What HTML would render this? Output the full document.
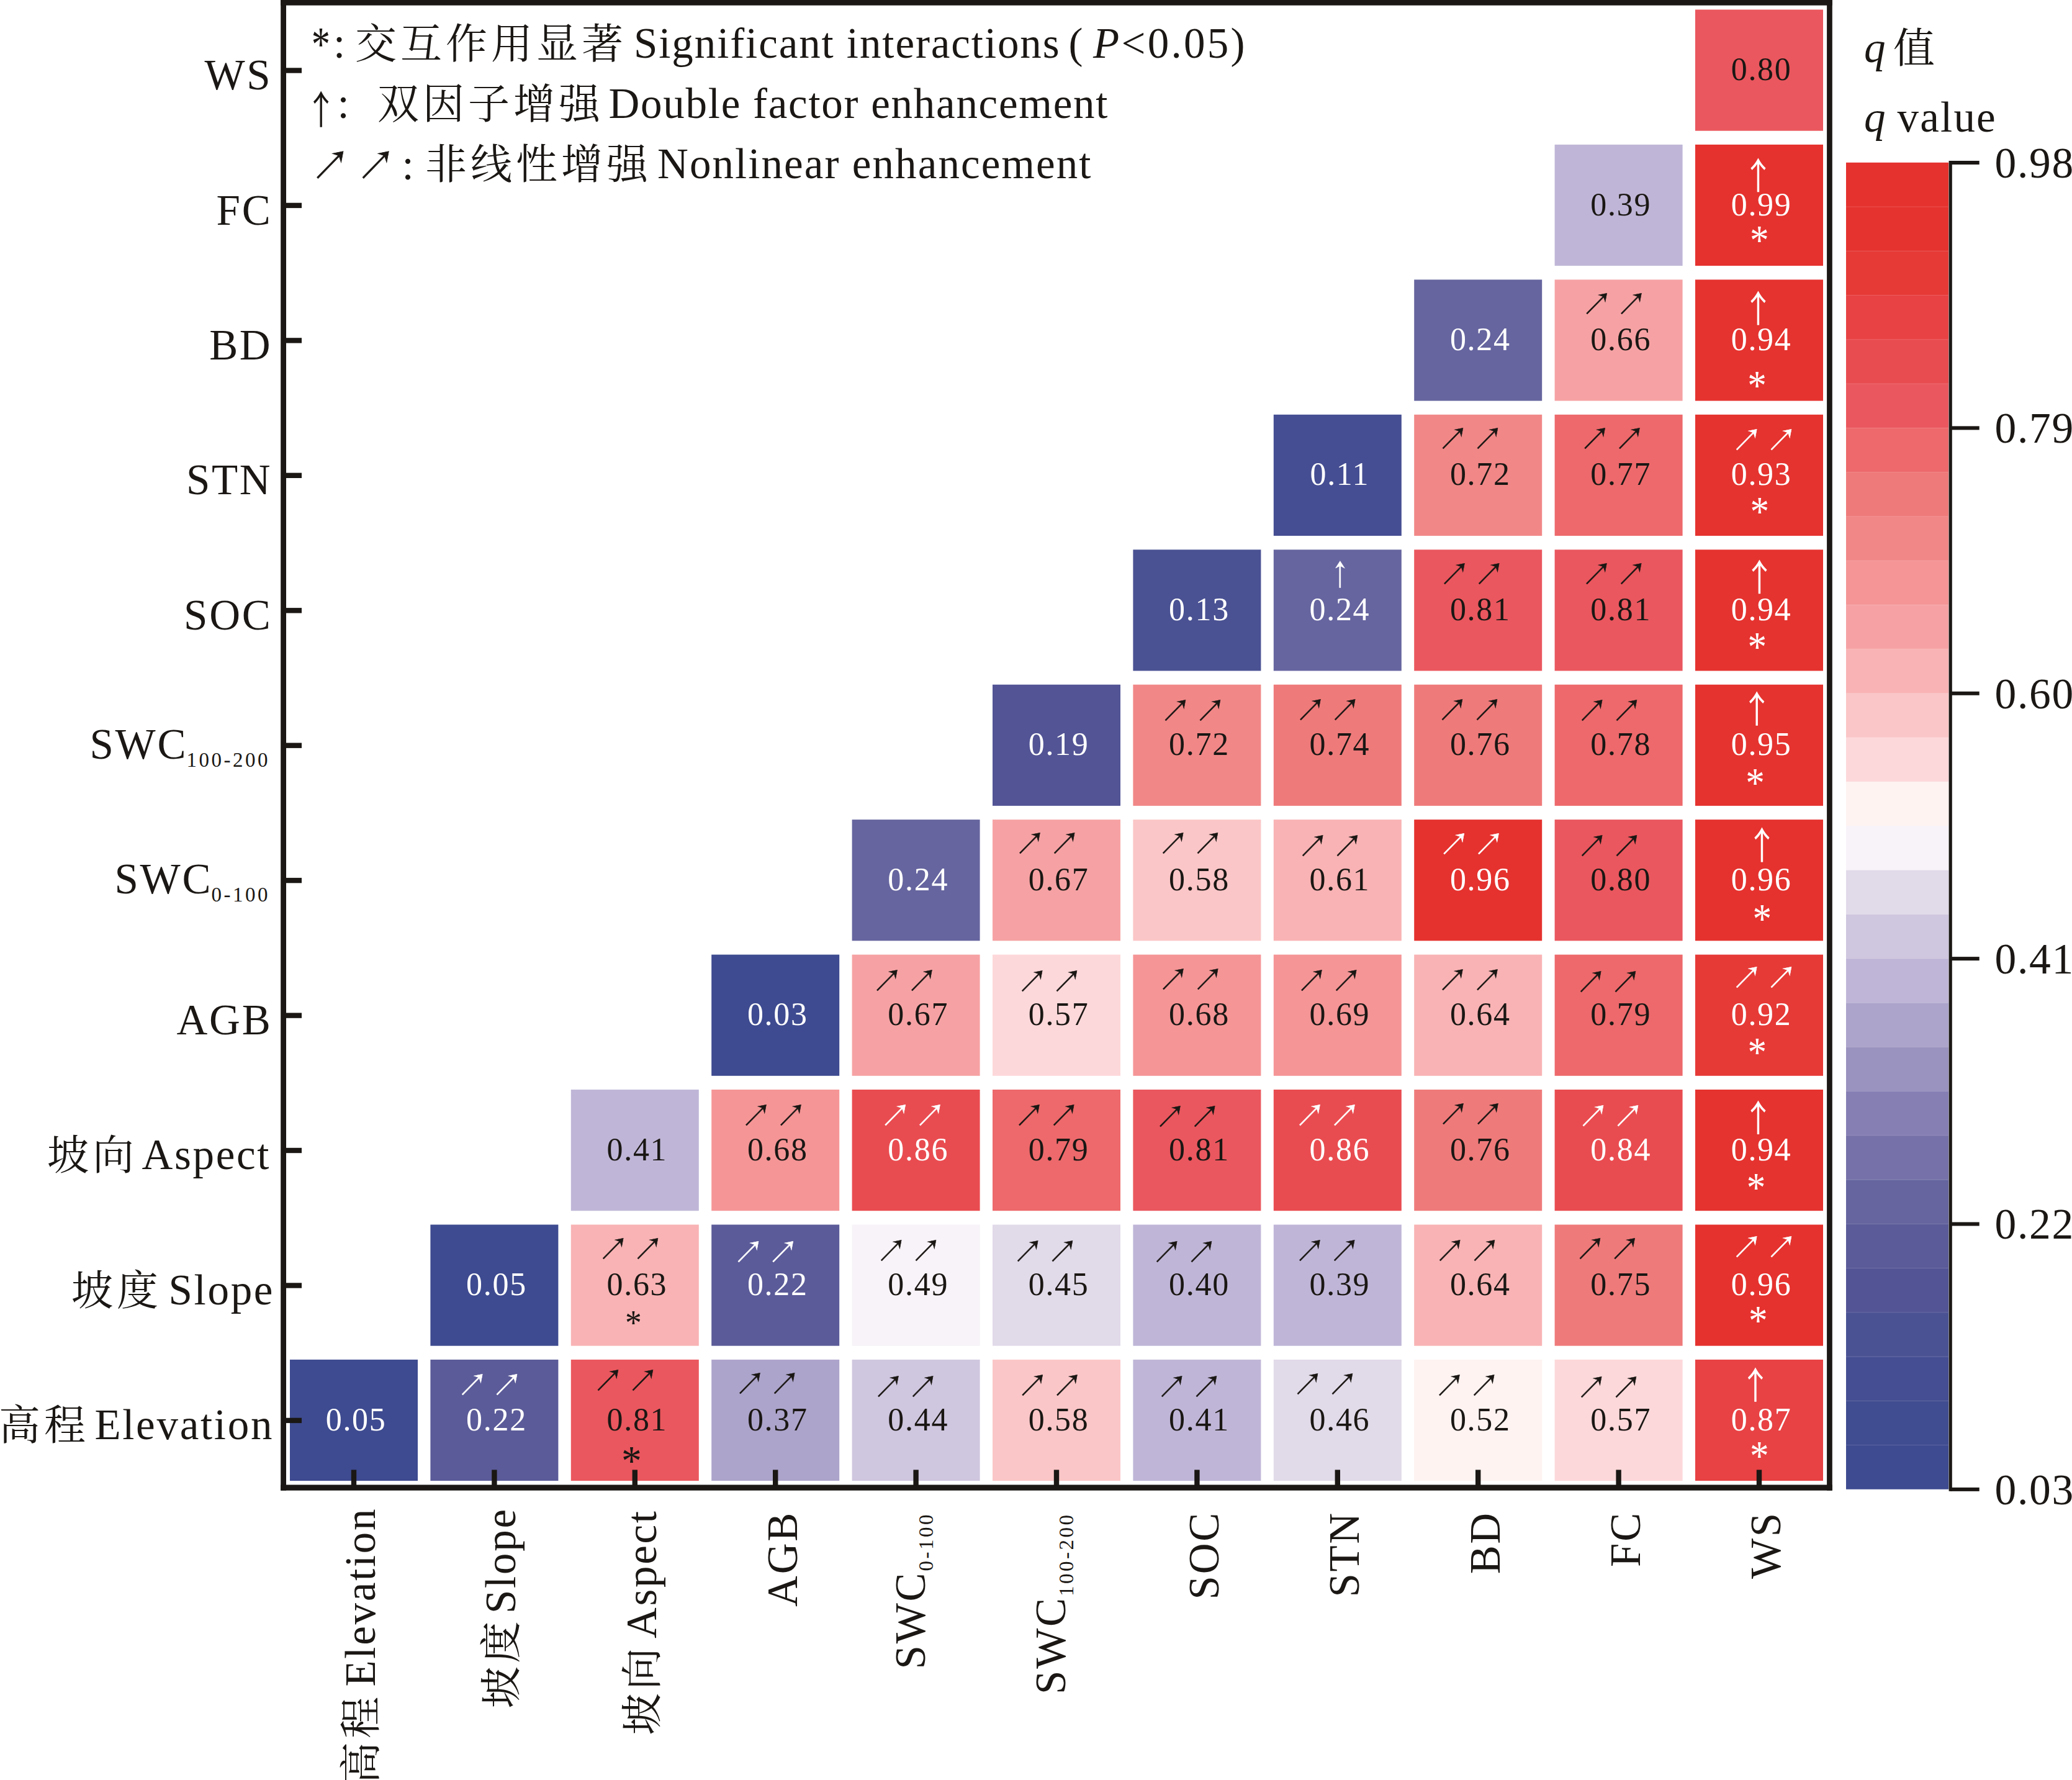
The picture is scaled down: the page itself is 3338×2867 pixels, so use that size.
<!DOCTYPE html>
<html lang="zh"><head><meta charset="utf-8"><title>q value interaction heatmap</title>
<style>html,body{margin:0;padding:0;background:#fff}body{width:3338px;height:2867px;overflow:hidden}svg{display:block}text{font-family:"Liberation Serif", "Noto Serif CJK SC", serif;fill:#1a1714;white-space:pre}.n{font-size:52px;text-anchor:middle;letter-spacing:1.7px}.a,.u{font-family:"WenQuanYi Zen Hei", "Noto Serif CJK SC", "DejaVu Sans", sans-serif;font-size:100px}.a{stroke:#1a1714;stroke-width:1.2px}.a.w{stroke:#fff}.up{font-family:"Noto Serif CJK SC",serif;font-size:100px;stroke:#1a1714;stroke-width:2.8px;stroke-linejoin:miter}.up.w{stroke:#fff}.s,.us{font-family:"Liberation Serif", "Noto Serif CJK SC", serif;font-size:100px}.w{fill:#fff}.l{font-size:69px;letter-spacing:2.7px}.g{letter-spacing:1.9px}.c{font-size:67px;letter-spacing:6px}.sub{font-size:33px;letter-spacing:3.5px}.t{font-size:69.5px;letter-spacing:1.7px}.v{letter-spacing:2.2px}.g2{letter-spacing:1.73px}</style></head><body>
<svg width="3338" height="2867" viewBox="0 0 3338 2867">
<rect width="3338" height="2867" fill="#fff"/>
<rect x="2731.0" y="15.5" width="206.0" height="195.2" fill="#EA575E"/>
<rect x="2504.6" y="232.9" width="206.0" height="195.2" fill="#BFB6D7"/>
<rect x="2731.0" y="232.9" width="206.0" height="195.2" fill="#E5322E"/>
<rect x="2278.2" y="450.4" width="206.0" height="195.2" fill="#66659F"/>
<rect x="2504.6" y="450.4" width="206.0" height="195.2" fill="#F6A2A4"/>
<rect x="2731.0" y="450.4" width="206.0" height="195.2" fill="#E5332F"/>
<rect x="2051.8" y="667.8" width="206.0" height="195.2" fill="#454E92"/>
<rect x="2278.2" y="667.8" width="206.0" height="195.2" fill="#F18787"/>
<rect x="2504.6" y="667.8" width="206.0" height="195.2" fill="#ED696B"/>
<rect x="2731.0" y="667.8" width="206.0" height="195.2" fill="#E5332F"/>
<rect x="1825.4" y="885.3" width="206.0" height="195.2" fill="#4A5293"/>
<rect x="2051.8" y="885.3" width="206.0" height="195.2" fill="#66659F"/>
<rect x="2278.2" y="885.3" width="206.0" height="195.2" fill="#EA575E"/>
<rect x="2504.6" y="885.3" width="206.0" height="195.2" fill="#EA575E"/>
<rect x="2731.0" y="885.3" width="206.0" height="195.2" fill="#E5332F"/>
<rect x="1599.0" y="1102.7" width="206.0" height="195.2" fill="#525495"/>
<rect x="1825.4" y="1102.7" width="206.0" height="195.2" fill="#F18787"/>
<rect x="2051.8" y="1102.7" width="206.0" height="195.2" fill="#EF7A7A"/>
<rect x="2278.2" y="1102.7" width="206.0" height="195.2" fill="#EF7A7A"/>
<rect x="2504.6" y="1102.7" width="206.0" height="195.2" fill="#ED696B"/>
<rect x="2731.0" y="1102.7" width="206.0" height="195.2" fill="#E5332F"/>
<rect x="1372.6" y="1320.1" width="206.0" height="195.2" fill="#66659F"/>
<rect x="1599.0" y="1320.1" width="206.0" height="195.2" fill="#F6A2A4"/>
<rect x="1825.4" y="1320.1" width="206.0" height="195.2" fill="#FBC6C7"/>
<rect x="2051.8" y="1320.1" width="206.0" height="195.2" fill="#F9B3B4"/>
<rect x="2278.2" y="1320.1" width="206.0" height="195.2" fill="#E5322E"/>
<rect x="2504.6" y="1320.1" width="206.0" height="195.2" fill="#EA575E"/>
<rect x="2731.0" y="1320.1" width="206.0" height="195.2" fill="#E5322E"/>
<rect x="1146.2" y="1537.6" width="206.0" height="195.2" fill="#3E4B90"/>
<rect x="1372.6" y="1537.6" width="206.0" height="195.2" fill="#F6A2A4"/>
<rect x="1599.0" y="1537.6" width="206.0" height="195.2" fill="#FDD8DA"/>
<rect x="1825.4" y="1537.6" width="206.0" height="195.2" fill="#F59596"/>
<rect x="2051.8" y="1537.6" width="206.0" height="195.2" fill="#F59596"/>
<rect x="2278.2" y="1537.6" width="206.0" height="195.2" fill="#F9B3B4"/>
<rect x="2504.6" y="1537.6" width="206.0" height="195.2" fill="#ED696B"/>
<rect x="2731.0" y="1537.6" width="206.0" height="195.2" fill="#E63A37"/>
<rect x="919.8" y="1755.0" width="206.0" height="195.2" fill="#BFB6D7"/>
<rect x="1146.2" y="1755.0" width="206.0" height="195.2" fill="#F59596"/>
<rect x="1372.6" y="1755.0" width="206.0" height="195.2" fill="#E94C50"/>
<rect x="1599.0" y="1755.0" width="206.0" height="195.2" fill="#ED696B"/>
<rect x="1825.4" y="1755.0" width="206.0" height="195.2" fill="#EA575E"/>
<rect x="2051.8" y="1755.0" width="206.0" height="195.2" fill="#E94C50"/>
<rect x="2278.2" y="1755.0" width="206.0" height="195.2" fill="#EF7A7A"/>
<rect x="2504.6" y="1755.0" width="206.0" height="195.2" fill="#E94C50"/>
<rect x="2731.0" y="1755.0" width="206.0" height="195.2" fill="#E5332F"/>
<rect x="693.4" y="1972.5" width="206.0" height="195.2" fill="#3E4B90"/>
<rect x="919.8" y="1972.5" width="206.0" height="195.2" fill="#F9B3B4"/>
<rect x="1146.2" y="1972.5" width="206.0" height="195.2" fill="#5B5B99"/>
<rect x="1372.6" y="1972.5" width="206.0" height="195.2" fill="#F7F3F8"/>
<rect x="1599.0" y="1972.5" width="206.0" height="195.2" fill="#E1DAE9"/>
<rect x="1825.4" y="1972.5" width="206.0" height="195.2" fill="#BFB6D7"/>
<rect x="2051.8" y="1972.5" width="206.0" height="195.2" fill="#BFB6D7"/>
<rect x="2278.2" y="1972.5" width="206.0" height="195.2" fill="#F9B3B4"/>
<rect x="2504.6" y="1972.5" width="206.0" height="195.2" fill="#EF7A7A"/>
<rect x="2731.0" y="1972.5" width="206.0" height="195.2" fill="#E5322E"/>
<rect x="467.0" y="2189.9" width="206.0" height="195.2" fill="#3E4B90"/>
<rect x="693.4" y="2189.9" width="206.0" height="195.2" fill="#5B5B99"/>
<rect x="919.8" y="2189.9" width="206.0" height="195.2" fill="#EA575E"/>
<rect x="1146.2" y="2189.9" width="206.0" height="195.2" fill="#ADA4CB"/>
<rect x="1372.6" y="2189.9" width="206.0" height="195.2" fill="#CFC6DF"/>
<rect x="1599.0" y="2189.9" width="206.0" height="195.2" fill="#FBC6C7"/>
<rect x="1825.4" y="2189.9" width="206.0" height="195.2" fill="#BFB6D7"/>
<rect x="2051.8" y="2189.9" width="206.0" height="195.2" fill="#E1DAE9"/>
<rect x="2278.2" y="2189.9" width="206.0" height="195.2" fill="#FEF3F1"/>
<rect x="2504.6" y="2189.9" width="206.0" height="195.2" fill="#FDD8DA"/>
<rect x="2731.0" y="2189.9" width="206.0" height="195.2" fill="#E84244"/>
<g fill="#1a1714">
<rect x="452.2" y="0" width="8.8" height="2400.7"/>
<rect x="2943.1" y="0" width="8.7" height="2400.7"/>
<rect x="452.2" y="0" width="2499.6" height="8.7"/>
<rect x="452.2" y="2391.5" width="2499.6" height="9.2"/>
<rect x="461" y="109.3" width="25" height="8.4"/>
<rect x="461" y="326.7" width="25" height="8.4"/>
<rect x="461" y="544.2" width="25" height="8.4"/>
<rect x="461" y="761.6" width="25" height="8.4"/>
<rect x="461" y="979.1" width="25" height="8.4"/>
<rect x="461" y="1196.5" width="25" height="8.4"/>
<rect x="461" y="1413.9" width="25" height="8.4"/>
<rect x="461" y="1631.4" width="25" height="8.4"/>
<rect x="461" y="1848.8" width="25" height="8.4"/>
<rect x="461" y="2066.3" width="25" height="8.4"/>
<rect x="461" y="2283.7" width="25" height="8.4"/>
<rect x="565.8" y="2367.4" width="8.4" height="25"/>
<rect x="792.2" y="2367.4" width="8.4" height="25"/>
<rect x="1018.6" y="2367.4" width="8.4" height="25"/>
<rect x="1245.0" y="2367.4" width="8.4" height="25"/>
<rect x="1471.4" y="2367.4" width="8.4" height="25"/>
<rect x="1697.8" y="2367.4" width="8.4" height="25"/>
<rect x="1924.2" y="2367.4" width="8.4" height="25"/>
<rect x="2150.6" y="2367.4" width="8.4" height="25"/>
<rect x="2377.0" y="2367.4" width="8.4" height="25"/>
<rect x="2603.4" y="2367.4" width="8.4" height="25"/>
<rect x="2829.8" y="2367.4" width="8.4" height="25"/>
</g>
<text class="n" x="2837.6" y="129.1">0.80</text>
<text class="n" x="2611.2" y="346.5">0.39</text>
<text class="n w" x="2837.6" y="346.5">0.99</text>
<text class="up w" transform="translate(2809.27,304.41) scale(0.4646,0.5675)">↑</text>
<text class="s w" transform="translate(2819.09,409.43) scale(0.6125,0.6806)">*</text>
<text class="n w" x="2384.8" y="564.0">0.24</text>
<text class="n" x="2611.2" y="564.0">0.66</text>
<text class="a" transform="translate(2547.28,507.74) scale(0.5076,0.5181)">↗</text><text class="a" transform="translate(2603.08,507.74) scale(0.5076,0.5181)">↗</text>
<text class="n w" x="2837.6" y="564.0">0.94</text>
<text class="up w" transform="translate(2809.27,518.43) scale(0.4646,0.5696)">↑</text>
<text class="s w" transform="translate(2815.19,642.77) scale(0.6125,0.6806)">*</text>
<text class="n w" x="2158.4" y="781.4">0.11</text>
<text class="n" x="2384.8" y="781.4">0.72</text>
<text class="a" transform="translate(2315.58,724.88) scale(0.5076,0.5181)">↗</text><text class="a" transform="translate(2371.38,724.88) scale(0.5076,0.5181)">↗</text>
<text class="n" x="2611.2" y="781.4">0.77</text>
<text class="a" transform="translate(2544.28,724.88) scale(0.5076,0.5181)">↗</text><text class="a" transform="translate(2600.08,724.88) scale(0.5076,0.5181)">↗</text>
<text class="n w" x="2837.6" y="781.4">0.93</text>
<text class="a w" transform="translate(2788.68,727.28) scale(0.5076,0.5181)">↗</text><text class="a w" transform="translate(2844.48,727.28) scale(0.5076,0.5181)">↗</text>
<text class="s w" transform="translate(2819.59,846.11) scale(0.6125,0.6806)">*</text>
<text class="n w" x="1932.0" y="998.9">0.13</text>
<text class="n w" x="2158.4" y="998.9">0.24</text>
<text class="a w" transform="translate(2135.37,943.17) scale(0.4726,0.4988)">↑</text>
<text class="n" x="2384.8" y="998.9">0.81</text>
<text class="a" transform="translate(2317.88,943.02) scale(0.5076,0.5181)">↗</text><text class="a" transform="translate(2373.68,943.02) scale(0.5076,0.5181)">↗</text>
<text class="n" x="2611.2" y="998.9">0.81</text>
<text class="a" transform="translate(2546.98,943.02) scale(0.5076,0.5181)">↗</text><text class="a" transform="translate(2602.78,943.02) scale(0.5076,0.5181)">↗</text>
<text class="n w" x="2837.6" y="998.9">0.94</text>
<text class="up w" transform="translate(2811.27,951.43) scale(0.4646,0.5675)">↑</text>
<text class="s w" transform="translate(2815.39,1064.15) scale(0.6125,0.6806)">*</text>
<text class="n w" x="1705.6" y="1216.3">0.19</text>
<text class="n" x="1932.0" y="1216.3">0.72</text>
<text class="a" transform="translate(1868.58,1163.16) scale(0.5076,0.5181)">↗</text><text class="a" transform="translate(1924.38,1163.16) scale(0.5076,0.5181)">↗</text>
<text class="n" x="2158.4" y="1216.3">0.74</text>
<text class="a" transform="translate(2085.88,1162.16) scale(0.5076,0.5181)">↗</text><text class="a" transform="translate(2141.68,1162.16) scale(0.5076,0.5181)">↗</text>
<text class="n" x="2384.8" y="1216.3">0.76</text>
<text class="a" transform="translate(2314.58,1162.16) scale(0.5076,0.5181)">↗</text><text class="a" transform="translate(2370.38,1162.16) scale(0.5076,0.5181)">↗</text>
<text class="n" x="2611.2" y="1216.3">0.78</text>
<text class="a" transform="translate(2539.68,1163.16) scale(0.5076,0.5181)">↗</text><text class="a" transform="translate(2595.48,1163.16) scale(0.5076,0.5181)">↗</text>
<text class="n w" x="2837.6" y="1216.3">0.95</text>
<text class="up w" transform="translate(2807.07,1163.32) scale(0.4646,0.5728)">↑</text>
<text class="s w" transform="translate(2812.19,1282.59) scale(0.6125,0.6806)">*</text>
<text class="n w" x="1479.2" y="1433.7">0.24</text>
<text class="n" x="1705.6" y="1433.7">0.67</text>
<text class="a" transform="translate(1633.88,1377.20) scale(0.5076,0.5181)">↗</text><text class="a" transform="translate(1689.68,1377.20) scale(0.5076,0.5181)">↗</text>
<text class="n" x="1932.0" y="1433.7">0.58</text>
<text class="a" transform="translate(1864.68,1377.20) scale(0.5076,0.5181)">↗</text><text class="a" transform="translate(1920.48,1377.20) scale(0.5076,0.5181)">↗</text>
<text class="n" x="2158.4" y="1433.7">0.61</text>
<text class="a" transform="translate(2089.78,1381.10) scale(0.5076,0.5181)">↗</text><text class="a" transform="translate(2145.58,1381.10) scale(0.5076,0.5181)">↗</text>
<text class="n w" x="2384.8" y="1433.7">0.96</text>
<text class="a w" transform="translate(2317.18,1378.10) scale(0.5076,0.5181)">↗</text><text class="a w" transform="translate(2372.98,1378.10) scale(0.5076,0.5181)">↗</text>
<text class="n" x="2611.2" y="1433.7">0.80</text>
<text class="a" transform="translate(2539.68,1381.10) scale(0.5076,0.5181)">↗</text><text class="a" transform="translate(2595.48,1381.10) scale(0.5076,0.5181)">↗</text>
<text class="n w" x="2837.6" y="1433.7">0.96</text>
<text class="up w" transform="translate(2815.27,1383.19) scale(0.4646,0.5802)">↑</text>
<text class="s w" transform="translate(2823.49,1502.43) scale(0.6125,0.6806)">*</text>
<text class="n w" x="1252.8" y="1651.2">0.03</text>
<text class="n" x="1479.2" y="1651.2">0.67</text>
<text class="a" transform="translate(1404.08,1598.14) scale(0.5076,0.5181)">↗</text><text class="a" transform="translate(1459.88,1598.14) scale(0.5076,0.5181)">↗</text>
<text class="n" x="1705.6" y="1651.2">0.57</text>
<text class="a" transform="translate(1637.78,1598.74) scale(0.5076,0.5181)">↗</text><text class="a" transform="translate(1693.58,1598.74) scale(0.5076,0.5181)">↗</text>
<text class="n" x="1932.0" y="1651.2">0.68</text>
<text class="a" transform="translate(1864.88,1596.44) scale(0.5076,0.5181)">↗</text><text class="a" transform="translate(1920.68,1596.44) scale(0.5076,0.5181)">↗</text>
<text class="n" x="2158.4" y="1651.2">0.69</text>
<text class="a" transform="translate(2087.98,1598.14) scale(0.5076,0.5181)">↗</text><text class="a" transform="translate(2143.78,1598.14) scale(0.5076,0.5181)">↗</text>
<text class="n" x="2384.8" y="1651.2">0.64</text>
<text class="a" transform="translate(2315.08,1597.14) scale(0.5076,0.5181)">↗</text><text class="a" transform="translate(2370.88,1597.14) scale(0.5076,0.5181)">↗</text>
<text class="n" x="2611.2" y="1651.2">0.79</text>
<text class="a" transform="translate(2537.68,1599.74) scale(0.5076,0.5181)">↗</text><text class="a" transform="translate(2593.48,1599.74) scale(0.5076,0.5181)">↗</text>
<text class="n w" x="2837.6" y="1651.2">0.92</text>
<text class="a w" transform="translate(2788.68,1592.84) scale(0.5076,0.5181)">↗</text><text class="a w" transform="translate(2844.48,1592.84) scale(0.5076,0.5181)">↗</text>
<text class="s w" transform="translate(2815.39,1716.67) scale(0.6125,0.6806)">*</text>
<text class="n" x="1026.4" y="1868.6">0.41</text>
<text class="n" x="1252.8" y="1868.6">0.68</text>
<text class="a" transform="translate(1193.08,1814.78) scale(0.5076,0.5181)">↗</text><text class="a" transform="translate(1248.88,1814.78) scale(0.5076,0.5181)">↗</text>
<text class="n w" x="1479.2" y="1868.6">0.86</text>
<text class="a w" transform="translate(1417.18,1814.78) scale(0.5076,0.5181)">↗</text><text class="a w" transform="translate(1472.98,1814.78) scale(0.5076,0.5181)">↗</text>
<text class="n" x="1705.6" y="1868.6">0.79</text>
<text class="a" transform="translate(1632.88,1814.78) scale(0.5076,0.5181)">↗</text><text class="a" transform="translate(1688.68,1814.78) scale(0.5076,0.5181)">↗</text>
<text class="n" x="1932.0" y="1868.6">0.81</text>
<text class="a" transform="translate(1859.98,1817.08) scale(0.5076,0.5181)">↗</text><text class="a" transform="translate(1915.78,1817.08) scale(0.5076,0.5181)">↗</text>
<text class="n w" x="2158.4" y="1868.6">0.86</text>
<text class="a w" transform="translate(2085.08,1814.78) scale(0.5076,0.5181)">↗</text><text class="a w" transform="translate(2140.88,1814.78) scale(0.5076,0.5181)">↗</text>
<text class="n" x="2384.8" y="1868.6">0.76</text>
<text class="a" transform="translate(2316.08,1813.08) scale(0.5076,0.5181)">↗</text><text class="a" transform="translate(2371.88,1813.08) scale(0.5076,0.5181)">↗</text>
<text class="n w" x="2611.2" y="1868.6">0.84</text>
<text class="a w" transform="translate(2541.58,1816.38) scale(0.5076,0.5181)">↗</text><text class="a w" transform="translate(2597.38,1816.38) scale(0.5076,0.5181)">↗</text>
<text class="n w" x="2837.6" y="1868.6">0.94</text>
<text class="up w" transform="translate(2809.17,1821.62) scale(0.4646,0.5643)">↑</text>
<text class="s w" transform="translate(2813.69,1935.21) scale(0.6125,0.6806)">*</text>
<text class="n w" x="800.0" y="2086.1">0.05</text>
<text class="n" x="1026.4" y="2086.1">0.63</text>
<text class="a" transform="translate(962.78,2029.82) scale(0.5076,0.5181)">↗</text><text class="a" transform="translate(1018.58,2029.82) scale(0.5076,0.5181)">↗</text>
<text class="s" transform="translate(1007.12,2150.26) scale(0.5350,0.5639)">*</text>
<text class="n w" x="1252.8" y="2086.1">0.22</text>
<text class="a w" transform="translate(1180.38,2035.42) scale(0.5076,0.5181)">↗</text><text class="a w" transform="translate(1236.18,2035.42) scale(0.5076,0.5181)">↗</text>
<text class="n" x="1479.2" y="2086.1">0.49</text>
<text class="a" transform="translate(1410.78,2033.12) scale(0.5076,0.5181)">↗</text><text class="a" transform="translate(1466.58,2033.12) scale(0.5076,0.5181)">↗</text>
<text class="n" x="1705.6" y="2086.1">0.45</text>
<text class="a" transform="translate(1630.68,2033.72) scale(0.5076,0.5181)">↗</text><text class="a" transform="translate(1686.48,2033.72) scale(0.5076,0.5181)">↗</text>
<text class="n" x="1932.0" y="2086.1">0.40</text>
<text class="a" transform="translate(1854.78,2035.42) scale(0.5076,0.5181)">↗</text><text class="a" transform="translate(1910.58,2035.42) scale(0.5076,0.5181)">↗</text>
<text class="n" x="2158.4" y="2086.1">0.39</text>
<text class="a" transform="translate(2084.88,2033.12) scale(0.5076,0.5181)">↗</text><text class="a" transform="translate(2140.68,2033.12) scale(0.5076,0.5181)">↗</text>
<text class="n" x="2384.8" y="2086.1">0.64</text>
<text class="a" transform="translate(2310.68,2033.12) scale(0.5076,0.5181)">↗</text><text class="a" transform="translate(2366.48,2033.12) scale(0.5076,0.5181)">↗</text>
<text class="n" x="2611.2" y="2086.1">0.75</text>
<text class="a" transform="translate(2536.48,2029.82) scale(0.5076,0.5181)">↗</text><text class="a" transform="translate(2592.28,2029.82) scale(0.5076,0.5181)">↗</text>
<text class="n w" x="2837.6" y="2086.1">0.96</text>
<text class="a w" transform="translate(2788.68,2026.52) scale(0.5076,0.5181)">↗</text><text class="a w" transform="translate(2844.48,2026.52) scale(0.5076,0.5181)">↗</text>
<text class="s w" transform="translate(2817.09,2149.25) scale(0.6125,0.6806)">*</text>
<text class="n w" x="573.6" y="2303.5">0.05</text>
<text class="n w" x="800.0" y="2303.5">0.22</text>
<text class="a w" transform="translate(735.68,2248.76) scale(0.5076,0.5181)">↗</text><text class="a w" transform="translate(791.48,2248.76) scale(0.5076,0.5181)">↗</text>
<text class="n" x="1026.4" y="2303.5">0.81</text>
<text class="a" transform="translate(954.58,2241.56) scale(0.5076,0.5181)">↗</text><text class="a" transform="translate(1010.38,2241.56) scale(0.5076,0.5181)">↗</text>
<text class="s" transform="translate(1000.96,2375.32) scale(0.6575,0.6833)">*</text>
<text class="n" x="1252.8" y="2303.5">0.37</text>
<text class="a" transform="translate(1182.98,2247.16) scale(0.5076,0.5181)">↗</text><text class="a" transform="translate(1238.78,2247.16) scale(0.5076,0.5181)">↗</text>
<text class="n" x="1479.2" y="2303.5">0.44</text>
<text class="a" transform="translate(1405.88,2252.06) scale(0.5076,0.5181)">↗</text><text class="a" transform="translate(1461.68,2252.06) scale(0.5076,0.5181)">↗</text>
<text class="n" x="1705.6" y="2303.5">0.58</text>
<text class="a" transform="translate(1638.18,2249.76) scale(0.5076,0.5181)">↗</text><text class="a" transform="translate(1693.98,2249.76) scale(0.5076,0.5181)">↗</text>
<text class="n" x="1932.0" y="2303.5">0.41</text>
<text class="a" transform="translate(1862.68,2252.06) scale(0.5076,0.5181)">↗</text><text class="a" transform="translate(1918.48,2252.06) scale(0.5076,0.5181)">↗</text>
<text class="n" x="2158.4" y="2303.5">0.46</text>
<text class="a" transform="translate(2081.58,2248.06) scale(0.5076,0.5181)">↗</text><text class="a" transform="translate(2137.38,2248.06) scale(0.5076,0.5181)">↗</text>
<text class="n" x="2384.8" y="2303.5">0.52</text>
<text class="a" transform="translate(2309.98,2249.76) scale(0.5076,0.5181)">↗</text><text class="a" transform="translate(2365.78,2249.76) scale(0.5076,0.5181)">↗</text>
<text class="n" x="2611.2" y="2303.5">0.57</text>
<text class="a" transform="translate(2538.78,2253.06) scale(0.5076,0.5181)">↗</text><text class="a" transform="translate(2594.58,2253.06) scale(0.5076,0.5181)">↗</text>
<text class="n w" x="2837.6" y="2303.5">0.87</text>
<text class="up w" transform="translate(2804.67,2251.53) scale(0.4646,0.5717)">↑</text>
<text class="s w" transform="translate(2819.09,2367.49) scale(0.6125,0.6806)">*</text>
<text class="l" x="438.4" y="144.1" text-anchor="end">WS</text>
<text class="l" x="438.4" y="361.5" text-anchor="end">FC</text>
<text class="l" x="438.4" y="579.0" text-anchor="end">BD</text>
<text class="l" x="438.4" y="796.4" text-anchor="end">STN</text>
<text class="l" x="438.4" y="1013.9" text-anchor="end">SOC</text>
<text class="l" x="438.4" y="1666.2" text-anchor="end">AGB</text>
<text class="l" x="144.5" y="1222.0">SWC</text><text class="sub" x="300.5" y="1234.8">100-200</text>
<text class="l" x="184.5" y="1439.4">SWC</text><text class="sub" x="340.5" y="1452.2">0-100</text>
<text class="c" x="76.0" y="1884.4">坡向</text><text class="l" x="228.4" y="1883.4">Aspect</text>
<text class="c" x="115.0" y="2101.9">坡度</text><text class="l" x="271.5" y="2100.9">Slope</text>
<text class="c" x="-2.0" y="2319.3">高程</text><text class="l" x="152.4" y="2318.3">Elevation</text>
<g transform="translate(604.0,0) rotate(-90)"><text class="l" text-anchor="end" x="-2427.8" y="0">Elevation</text><text class="c" text-anchor="end" x="-2727.0" y="1">高程</text></g>
<g transform="translate(830.4,0) rotate(-90)"><text class="l" text-anchor="end" x="-2428.3" y="0">Slope</text><text class="c" text-anchor="end" x="-2605.5" y="1">坡度</text></g>
<g transform="translate(1056.8,0) rotate(-90)"><text class="l" text-anchor="end" x="-2431.3" y="0">Aspect</text><text class="c" text-anchor="end" x="-2648.5" y="1">坡向</text></g>
<text class="l" transform="translate(1283.5,2436.8) rotate(-90)" text-anchor="end" x="2.7" y="0">AGB</text>
<g transform="translate(1489.9,0) rotate(-90)"><text class="sub" text-anchor="end" x="-2436.0" y="13">0-100</text><text class="l" text-anchor="end" x="-2530.8" y="0">SWC</text></g>
<g transform="translate(1716.3,0) rotate(-90)"><text class="sub" text-anchor="end" x="-2436.5" y="13">100-200</text><text class="l" text-anchor="end" x="-2571.3" y="0">SWC</text></g>
<text class="l" transform="translate(1962.7,2436.8) rotate(-90)" text-anchor="end" x="2.7" y="0">SOC</text>
<text class="l" transform="translate(2189.1,2436.8) rotate(-90)" text-anchor="end" x="2.7" y="0">STN</text>
<text class="l" transform="translate(2415.5,2436.8) rotate(-90)" text-anchor="end" x="2.7" y="0">BD</text>
<text class="l" transform="translate(2641.9,2436.8) rotate(-90)" text-anchor="end" x="2.7" y="0">FC</text>
<text class="l" transform="translate(2868.3,2436.8) rotate(-90)" text-anchor="end" x="2.7" y="0">WS</text>
<text class="s" transform="translate(501.78,96.50) scale(0.6050,0.7861)">*</text><text class="l" x="537" y="93">:</text><text class="c" x="572" y="94">交互作用显著</text><text class="l g" x="1021" y="93">Significant interactions</text><text class="l g" x="1721.4" y="93">(</text><text class="l" x="1761" y="93" style="letter-spacing:3.3px"><tspan font-style="italic">P</tspan>&lt;0.05)</text>
<text class="up" transform="translate(493.67,199.32) scale(0.4685,0.6044)">↑</text><text class="l" x="543.5" y="190">:</text><text class="c" x="608" y="191">双因子增强</text><text class="l g2" x="980.5" y="190">Double factor enhancement</text>
<text class="a" transform="translate(499.72,290.28) scale(0.6511,0.6707)">↗</text><text class="a" transform="translate(573.15,290.28) scale(0.6495,0.6707)">↗</text><text class="l" x="647.5" y="289">:</text><text class="c" x="685" y="288">非线性增强</text><text class="l" style="letter-spacing:2.07px" x="1059" y="287">Nonlinear enhancement</text>
<rect x="2974.0" y="261.80" width="165.2" height="71.83" fill="#E5322E"/>
<rect x="2974.0" y="333.03" width="165.2" height="71.83" fill="#E5332F"/>
<rect x="2974.0" y="404.27" width="165.2" height="71.83" fill="#E63A37"/>
<rect x="2974.0" y="475.50" width="165.2" height="71.83" fill="#E84244"/>
<rect x="2974.0" y="546.73" width="165.2" height="71.83" fill="#E94C50"/>
<rect x="2974.0" y="617.97" width="165.2" height="71.83" fill="#EA575E"/>
<rect x="2974.0" y="689.20" width="165.2" height="71.83" fill="#ED696B"/>
<rect x="2974.0" y="760.43" width="165.2" height="71.83" fill="#EF7A7A"/>
<rect x="2974.0" y="831.67" width="165.2" height="71.83" fill="#F18787"/>
<rect x="2974.0" y="902.90" width="165.2" height="71.83" fill="#F59596"/>
<rect x="2974.0" y="974.13" width="165.2" height="71.83" fill="#F6A2A4"/>
<rect x="2974.0" y="1045.37" width="165.2" height="71.83" fill="#F9B3B4"/>
<rect x="2974.0" y="1116.60" width="165.2" height="71.83" fill="#FBC6C7"/>
<rect x="2974.0" y="1187.83" width="165.2" height="71.83" fill="#FDD8DA"/>
<rect x="2974.0" y="1259.07" width="165.2" height="71.83" fill="#FEF3F1"/>
<rect x="2974.0" y="1330.30" width="165.2" height="71.83" fill="#F7F3F8"/>
<rect x="2974.0" y="1401.53" width="165.2" height="71.83" fill="#E1DAE9"/>
<rect x="2974.0" y="1472.77" width="165.2" height="71.83" fill="#CFC6DF"/>
<rect x="2974.0" y="1544.00" width="165.2" height="71.83" fill="#BFB6D7"/>
<rect x="2974.0" y="1615.23" width="165.2" height="71.83" fill="#ADA4CB"/>
<rect x="2974.0" y="1686.47" width="165.2" height="71.83" fill="#9A92BF"/>
<rect x="2974.0" y="1757.70" width="165.2" height="71.83" fill="#867FB4"/>
<rect x="2974.0" y="1828.93" width="165.2" height="71.83" fill="#7671A8"/>
<rect x="2974.0" y="1900.17" width="165.2" height="71.83" fill="#66659F"/>
<rect x="2974.0" y="1971.40" width="165.2" height="71.83" fill="#5B5B99"/>
<rect x="2974.0" y="2042.63" width="165.2" height="71.83" fill="#525495"/>
<rect x="2974.0" y="2113.87" width="165.2" height="71.83" fill="#4A5293"/>
<rect x="2974.0" y="2185.10" width="165.2" height="71.83" fill="#454E92"/>
<rect x="2974.0" y="2256.33" width="165.2" height="71.83" fill="#404D90"/>
<rect x="2974.0" y="2327.57" width="165.2" height="71.23" fill="#3E4B90"/>
<rect x="2974.0" y="332.53" width="165.2" height="1" fill="#fff" fill-opacity="0.16"/>
<rect x="2974.0" y="403.77" width="165.2" height="1" fill="#fff" fill-opacity="0.16"/>
<rect x="2974.0" y="475.00" width="165.2" height="1" fill="#fff" fill-opacity="0.16"/>
<rect x="2974.0" y="546.23" width="165.2" height="1" fill="#fff" fill-opacity="0.16"/>
<rect x="2974.0" y="617.47" width="165.2" height="1" fill="#fff" fill-opacity="0.16"/>
<rect x="2974.0" y="688.70" width="165.2" height="1" fill="#fff" fill-opacity="0.16"/>
<rect x="2974.0" y="759.93" width="165.2" height="1" fill="#fff" fill-opacity="0.16"/>
<rect x="2974.0" y="831.17" width="165.2" height="1" fill="#fff" fill-opacity="0.16"/>
<rect x="2974.0" y="902.40" width="165.2" height="1" fill="#fff" fill-opacity="0.16"/>
<rect x="2974.0" y="973.63" width="165.2" height="1" fill="#fff" fill-opacity="0.16"/>
<rect x="2974.0" y="1044.87" width="165.2" height="1" fill="#fff" fill-opacity="0.16"/>
<rect x="2974.0" y="1116.10" width="165.2" height="1" fill="#fff" fill-opacity="0.16"/>
<rect x="2974.0" y="1187.33" width="165.2" height="1" fill="#fff" fill-opacity="0.16"/>
<rect x="2974.0" y="1258.57" width="165.2" height="1" fill="#fff" fill-opacity="0.16"/>
<rect x="2974.0" y="1329.80" width="165.2" height="1" fill="#fff" fill-opacity="0.16"/>
<rect x="2974.0" y="1401.03" width="165.2" height="1" fill="#fff" fill-opacity="0.16"/>
<rect x="2974.0" y="1472.27" width="165.2" height="1" fill="#fff" fill-opacity="0.16"/>
<rect x="2974.0" y="1543.50" width="165.2" height="1" fill="#fff" fill-opacity="0.16"/>
<rect x="2974.0" y="1614.73" width="165.2" height="1" fill="#fff" fill-opacity="0.16"/>
<rect x="2974.0" y="1685.97" width="165.2" height="1" fill="#fff" fill-opacity="0.16"/>
<rect x="2974.0" y="1757.20" width="165.2" height="1" fill="#fff" fill-opacity="0.16"/>
<rect x="2974.0" y="1828.43" width="165.2" height="1" fill="#fff" fill-opacity="0.16"/>
<rect x="2974.0" y="1899.67" width="165.2" height="1" fill="#fff" fill-opacity="0.16"/>
<rect x="2974.0" y="1970.90" width="165.2" height="1" fill="#fff" fill-opacity="0.16"/>
<rect x="2974.0" y="2042.13" width="165.2" height="1" fill="#fff" fill-opacity="0.16"/>
<rect x="2974.0" y="2113.37" width="165.2" height="1" fill="#fff" fill-opacity="0.16"/>
<rect x="2974.0" y="2184.60" width="165.2" height="1" fill="#fff" fill-opacity="0.16"/>
<rect x="2974.0" y="2255.83" width="165.2" height="1" fill="#fff" fill-opacity="0.16"/>
<rect x="2974.0" y="2327.07" width="165.2" height="1" fill="#fff" fill-opacity="0.16"/>
<g fill="#1a1714"><rect x="3139.6" y="259" width="5.2" height="2142.8"/>
<rect x="3142" y="259.0" width="46.7" height="6"/>
<rect x="3142" y="686.4" width="46.7" height="6"/>
<rect x="3142" y="1113.8" width="46.7" height="6"/>
<rect x="3142" y="1541.1" width="46.7" height="6"/>
<rect x="3142" y="1968.5" width="46.7" height="6"/>
<rect x="3142" y="2395.9" width="46.7" height="6"/>
</g>
<text class="t" x="3213.5" y="285.8">0.98</text>
<text class="t" x="3213.5" y="713.2">0.79</text>
<text class="t" x="3213.5" y="1140.6">0.60</text>
<text class="t" x="3213.5" y="1567.9">0.41</text>
<text class="t" x="3213.5" y="1995.3">0.22</text>
<text class="t" x="3213.5" y="2422.7">0.03</text>
<text class="l" x="3003" y="100.3"><tspan font-style="italic">q</tspan></text><text class="c" x="3050" y="101.3">值</text>
<text class="l" x="3003" y="211.9"><tspan font-style="italic">q</tspan></text><text class="l v" x="3056.5" y="211.9">value</text>
</svg></body></html>
